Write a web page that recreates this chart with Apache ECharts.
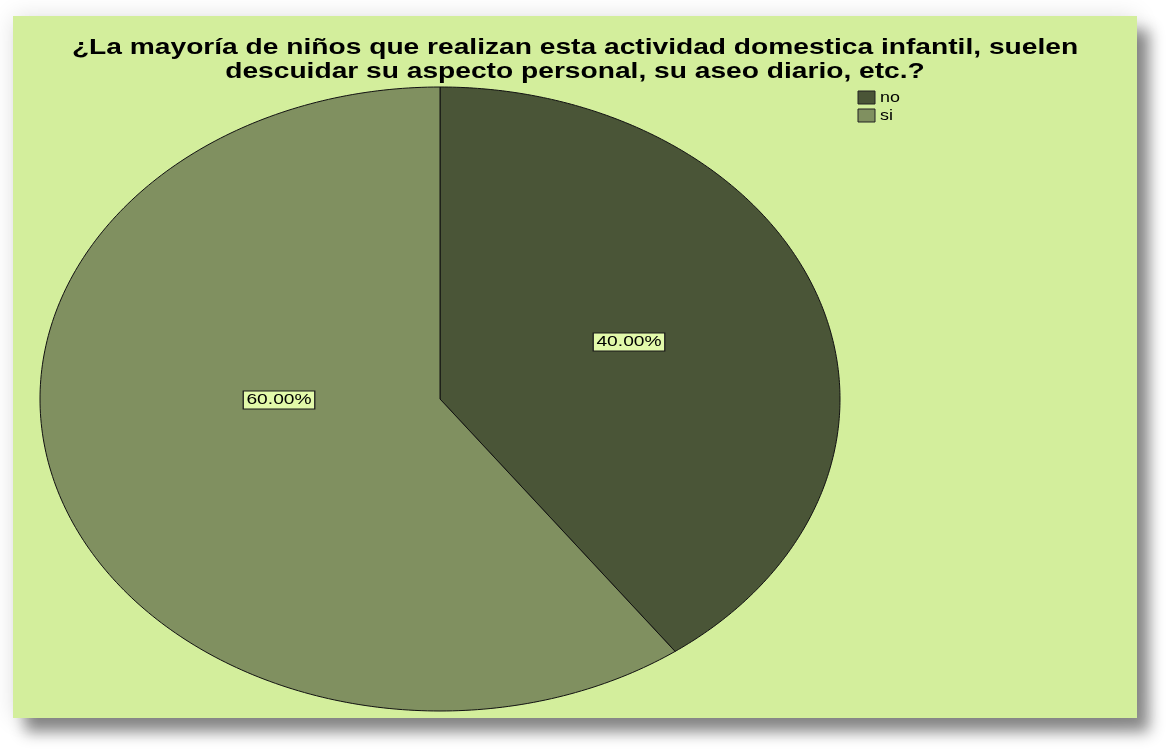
<!DOCTYPE html>
<html>
<head>
<meta charset="utf-8">
<script src="https://cdn.jsdelivr.net/npm/echarts@6/dist/echarts.min.js"></script>
<style>
html,body{margin:0;padding:0;background:#fff;}
#chart{width:1167px;height:755px;}
</style>
</head>
<body>
<div id="chart"></div>
<script>
// ---- data ----
const categories = ['no', 'si'];
const percentages = [40, 60];
const labelTexts = ['40.00%', '60.00%'];
const titleLines = ['¿La mayoría de niños que realizan esta actividad domestica infantil, suelen',
                    'descuidar su aspecto personal, su aseo diario, etc.?'];

// ---- style / layout ----
const colors = ['#4a5537', '#809060'];
const SX = 1.28;               // horizontal stretch of the original picture
const CX = 440, CY = 399, RX = 400, RY = 312;
const LABEL_DX = 14, LABEL_DY = -28;
const panel = {x: 13, y: 16, w: 1124, h: 702};
const FONT = '"Liberation Sans", Arial, sans-serif';

const total = percentages.reduce((a, b) => a + b, 0);

function renderSlice(params, api) {
  const i = params.dataIndex;
  let before = 0;
  for (let k = 0; k < i; k++) before += percentages[k];
  const v = api.value(0);
  const a0 = before / total * Math.PI * 2;
  const a1 = (before + v) / total * Math.PI * 2;
  const pts = [[CX, CY]];
  const n = 240;
  for (let s = 0; s <= n; s++) {
    const t = a0 + (a1 - a0) * s / n;
    pts.push([CX + RX * Math.sin(t), CY - RY * Math.cos(t)]);
  }
  const m = (a0 + a1) / 2;
  const lx = CX + LABEL_DX + RX * Math.sin(m) * 0.46;
  const ly = CY + LABEL_DY - RY * Math.cos(m) * 0.3;
  return {
    type: 'group',
    children: [
      {type: 'polygon', shape: {points: pts},
       style: {fill: colors[i], stroke: '#111', lineWidth: 1}},
      {type: 'text', x: lx, y: ly, scaleX: SX, z2: 10,
       style: {text: labelTexts[i], font: '15px ' + FONT, fill: '#000',
               align: 'center', verticalAlign: 'middle',
               backgroundColor: '#e2f9aa', borderColor: '#1a1a1a', borderWidth: 1,
               padding: [2, 2, 0, 2]}}
    ]
  };
}

const legendEls = categories.map((c, i) => ({
  type: 'group', x: 858, y: 91 + i * 18, z: 20,
  children: [
    {type: 'rect', shape: {x: 0, y: 0, width: 17, height: 13},
     style: {fill: colors[i], stroke: '#222', lineWidth: 1}},
    {type: 'text', x: 22, y: 7, scaleX: SX,
     style: {text: c, font: '14px ' + FONT, fill: '#000', verticalAlign: 'middle'}}
  ]
}));

const titleEls = titleLines.map((t, i) => ({
  type: 'text', x: 575, y: 48 + i * 24, scaleX: SX, z: 20,
  style: {text: t, font: 'bold 22px ' + FONT, fill: '#000',
          align: 'center', verticalAlign: 'middle'}
}));

const chart = echarts.init(document.getElementById('chart'), null, {renderer: 'canvas'});
chart.setOption({
  backgroundColor: '#ffffff',
  animation: false,
  graphic: [
    {type: 'rect', z: -10, shape: {x: panel.x, y: panel.y, width: panel.w, height: panel.h},
     style: {fill: '#d3ee9c', shadowBlur: 22, shadowColor: 'rgba(0,0,0,0.12)'}},
    {type: 'rect', z: -9, shape: {x: panel.x, y: panel.y, width: panel.w, height: panel.h},
     style: {fill: '#d3ee9c', shadowBlur: 14, shadowOffsetX: 12, shadowOffsetY: 14,
             shadowColor: 'rgba(0,0,0,0.45)'}},
    ...titleEls,
    ...legendEls
  ],
  series: [{
    type: 'custom',
    coordinateSystem: 'none',
    renderItem: renderSlice,
    data: percentages.map((v, i) => ({name: categories[i], value: [v]}))
  }]
});
</script>
</body>
</html>
